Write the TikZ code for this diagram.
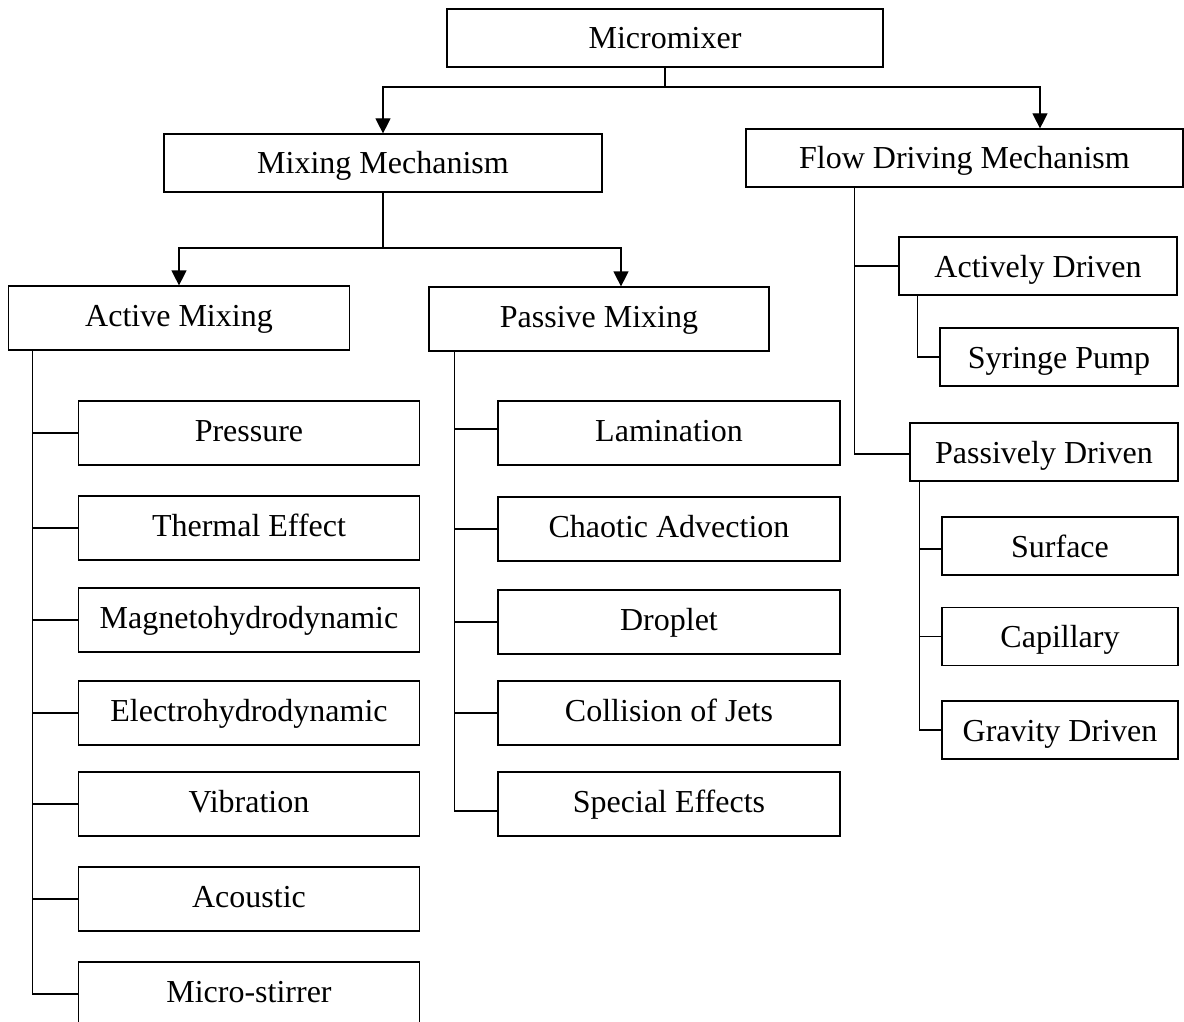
\documentclass[tikz,border=0pt]{standalone}
\usepackage{fontspec}
\setmainfont{Liberation Serif}
\usetikzlibrary{arrows.meta}
\begin{document}
\begin{tikzpicture}[x=1pt,y=-1pt,
  every node/.style={font=\fontsize{32}{36}\selectfont},
  tallbox/.style={draw, line width=1.2pt, rectangle, inner sep=0pt, minimum height=64pt, text height=24pt, text depth=8pt},
  lowbox/.style={draw, line width=1.2pt, rectangle, inner sep=0pt, minimum height=58pt, text height=27pt, text depth=5pt},
  conn/.style={line width=1.2pt},
  arr/.style={line width=1.2pt, -{Triangle[length=15pt,width=15pt]}}]
\clip (0,0) rectangle (1184,1022);
\fill[white] (0,0) rectangle (1184,1022);
% top level
\node[lowbox, minimum width=436pt] (mm) at (665,38) {Micromixer};
\node[lowbox, minimum width=438pt] (mech) at (383,163) {Mixing Mechanism};
\node[lowbox, minimum width=437pt] (fdm) at (964.5,158) {Flow Driving Mechanism};
% second level
\node[tallbox, minimum width=341pt] (am) at (179,318) {Active Mixing};
\node[tallbox, minimum width=340pt] (pm) at (599,319) {Passive Mixing};
% active leaves
\node[tallbox, minimum width=341pt] (pr) at (249,433) {Pressure};
\node[tallbox, minimum width=341pt] (th) at (249,528) {Thermal Effect};
\node[tallbox, minimum width=341pt] (mg) at (249,620) {Magnetohydrodynamic};
\node[tallbox, minimum width=341pt] (el) at (249,713) {Electrohydrodynamic};
\node[tallbox, minimum width=341pt] (vi) at (249,804) {Vibration};
\node[tallbox, minimum width=341pt] (ac) at (249,899) {Acoustic};
\node[tallbox, minimum width=341pt] (ms) at (249,994) {Micro-stirrer};
% passive leaves
\node[tallbox, minimum width=342pt] (la) at (669,433) {Lamination};
\node[tallbox, minimum width=342pt] (ca) at (669,529) {Chaotic Advection};
\node[tallbox, minimum width=342pt] (dr) at (669,622) {Droplet};
\node[tallbox, minimum width=342pt] (cj) at (669,713) {Collision of Jets};
\node[tallbox, minimum width=342pt] (se) at (669,804) {Special Effects};
% flow driving subs
\node[lowbox, minimum width=278pt] (ad) at (1038,266) {Actively Driven};
\node[lowbox, minimum width=238pt] (sp) at (1059,357) {Syringe Pump};
\node[lowbox, minimum width=268pt] (pd) at (1044,452) {Passively Driven};
\node[lowbox, minimum width=236pt] (su) at (1060,546) {Surface};
\node[lowbox, minimum width=236pt] (cp) at (1060,636.5) {Capillary};
\node[lowbox, minimum width=236pt] (gd) at (1060,730) {Gravity Driven};
% connectors top
\coordinate (j1) at (665,87);
\draw[conn] (mm.south) -- (j1);
\draw[arr] (j1) -| (mech.north);
\draw[arr] (j1) -| ([xshift=75.5pt]fdm.north);
\coordinate (j2) at (383,248);
\draw[conn] (mech.south) -- (j2);
\draw[arr] (j2) -| (am.north);
\draw[arr] (j2) -| ([xshift=22pt]pm.north);
% active trunk
\coordinate (ta) at ([xshift=24.5pt]am.south west);
\draw[conn] (ta) |- (ms.west);
\foreach \n in {pr,th,mg,el,vi,ac} \draw[conn] (\n.west) -- (ta |- \n.west);
% passive trunk
\coordinate (tp) at ([xshift=26pt]pm.south west);
\coordinate (sew) at ([yshift=-7pt]se.west);
\coordinate (law) at ([yshift=4pt]la.west);
\draw[conn] (tp) |- (sew);
\draw[conn] (law) -- (tp |- law);
\foreach \n in {ca,dr,cj} \draw[conn] (\n.west) -- (tp |- \n.west);
% flow driving trunk
\coordinate (tf) at ([xshift=109pt]fdm.south west);
\coordinate (pdw) at ([yshift=-2pt]pd.west);
\draw[conn] (tf) |- (pdw);
\draw[conn] (ad.west) -- (tf |- ad.west);
\coordinate (tad) at ([xshift=19pt]ad.south west);
\draw[conn] (tad) |- (sp.west);
\coordinate (tpd) at ([xshift=10pt]pd.south west);
\coordinate (suw) at ([yshift=-3pt]su.west);
\draw[conn] (tpd) |- (gd.west);
\draw[conn] (suw) -- (tpd |- suw);
\draw[conn] (cp.west) -- (tpd |- cp.west);
\end{tikzpicture}
\end{document}
